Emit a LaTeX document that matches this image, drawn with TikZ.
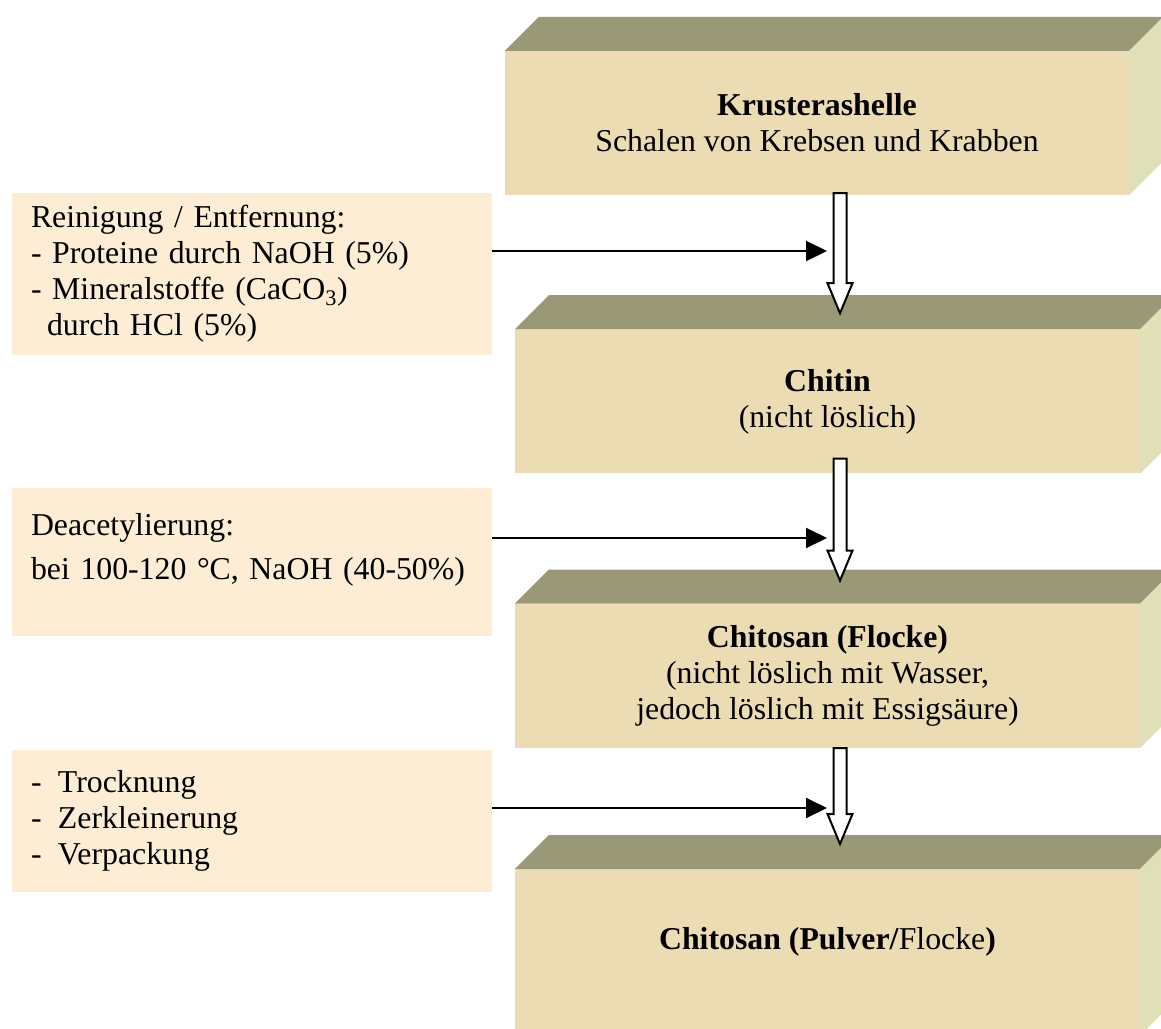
\documentclass[tikz,border=0pt]{standalone}
\usepackage{fontspec}
\setmainfont{Liberation Serif}
\usepackage{tikz}
\usepackage{xcolor}
\usetikzlibrary{positioning, arrows.meta, calc}

\definecolor{sand}{RGB}{236,220,180}
\definecolor{cream}{RGB}{252,237,212}
\definecolor{olivetop}{RGB}{153,153,120}
\definecolor{paleside}{RGB}{224,224,184}

\newcommand{\bigfont}{\fontsize{31.8}{36}\selectfont}
% hollow arrow from shaft top #1 down to tip #2
\newcommand{\hollowarrow}[2]{%
  \draw[line width=2pt, fill=white, line join=miter]
    ($(#1)+(-6.5,0)$) -- ($(#2)+(-6.5,30)$) -- ($(#2)+(-12.5,30)$) -- (#2)
    -- ($(#2)+(12.5,30)$) -- ($(#2)+(6.5,30)$) -- ($(#1)+(6.5,0)$) -- cycle;}

\begin{document}
\begin{tikzpicture}[x=1pt, y=1pt, node distance=130pt,
    block/.style={fill=sand, minimum width=625pt, minimum height=144pt, inner sep=0pt, align=center, font=\bigfont},
    note/.style={fill=cream, minimum width=480pt, text width=442pt, inner xsep=19pt, align=left, font=\bigfont},
    feed/.style={-{Triangle[length=21pt,width=20pt]}, line width=2pt}]
        \clip (0,0) rectangle (1161,-1028);

        \node[block, minimum width=624pt] (k) at (817,-123) {\textbf{Krusterashelle}\\Schalen von Krebsen und Krabben};
        \node[block, below=134pt of k, xshift=10.5pt] (chitin) {\textbf{Chitin}\\(nicht löslich)};
        \node[block, below=130pt of chitin] (flocke) {\textbf{Chitosan (Flocke)}\\(nicht löslich mit Wasser,\\jedoch löslich mit Essigsäure)};
        \node[block, below=121pt of flocke, minimum height=166pt] (pulver) {\textbf{Chitosan (Pulver/}Flocke\textbf{)}\rule[-28pt]{0pt}{0pt}};

        % top and side faces
        \foreach \b in {k,chitin,flocke,pulver}{
            \fill[olivetop] (\b.north west) -- ++(34,34) -- ($(\b.north east)+(34,34)$) -- (\b.north east) -- cycle;
            \fill[paleside] (\b.north east) -- ++(34,34) -- ($(\b.south east)+(34,34)$) -- (\b.south east) -- cycle;
        }

        \node[note, minimum height=162pt] (rein) at (252,-274) {Reinigung / Entfernung:\\
            - Proteine durch NaOH (5\%)\\
            - Mineralstoffe (CaCO\textsubscript{3})\\
            \hspace*{16pt}durch HCl (5\%)};
        \node[note, minimum height=148pt] (deac) at (252,-562) {Deacetylierung:\\[8pt]
            bei 100-120 °C, NaOH (40-50\%)\rule[-32pt]{0pt}{0pt}};
        \node[note, minimum height=142pt] (trock) at (252,-821) {\makebox[27pt][l]{-}Trocknung\\
            \makebox[27pt][l]{-}Zerkleinerung\\
            \makebox[27pt][l]{-}Verpackung};

        \coordinate (s1) at ($(k.south)+(23,2)$);
        \coordinate (t1) at ($(chitin.north)+(12.5,16)$);
        \coordinate (s2) at ($(chitin.south)+(12.5,15)$);
        \coordinate (t2) at ($(flocke.north)+(12.5,23)$);
        \coordinate (s3) at ($(flocke.south)+(12.5,0)$);
        \coordinate (t3) at ($(pulver.north)+(12.5,25)$);
        \hollowarrow{s1}{t1}
        \hollowarrow{s2}{t2}
        \hollowarrow{s3}{t3}

        \coordinate (f1) at (827,-251);
        \coordinate (f2) at (827,-538);
        \coordinate (f3) at (827,-808);
        \draw[feed] (rein.east |- f1) -- (f1);
        \draw[feed] (deac.east |- f2) -- (f2);
        \draw[feed] (trock.east |- f3) -- (f3);
    \end{tikzpicture}
\end{document}
